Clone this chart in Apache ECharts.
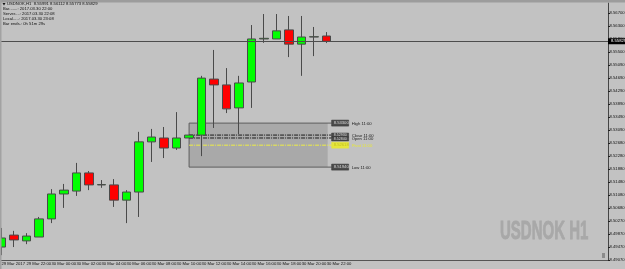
<!DOCTYPE html>
<html>
<head>
<meta charset="utf-8">
<style>html,body{margin:0;padding:0;background:#c2c2c2}#c{width:625px;height:269px}</style>
<script src="https://cdn.jsdelivr.net/npm/echarts@6/dist/echarts.min.js"></script>
</head>
<body>
<div id="c"></div>
<script>
// USDNOK H1 bars, oldest first
const barTimes = ['29 Mar 2017','29 Mar 21:00','29 Mar 22:00','29 Mar 23:00','30 Mar 00:00','30 Mar 01:00','30 Mar 02:00','30 Mar 03:00','30 Mar 04:00','30 Mar 05:00','30 Mar 06:00','30 Mar 07:00','30 Mar 08:00','30 Mar 09:00','30 Mar 10:00','30 Mar 11:00','30 Mar 12:00','30 Mar 13:00','30 Mar 14:00','30 Mar 15:00','30 Mar 16:00','30 Mar 17:00','30 Mar 18:00','30 Mar 19:00','30 Mar 20:00','30 Mar 21:00','30 Mar 22:00'];
const opens  = [8.4947,8.4984,8.4966,8.4978,8.5034,8.5111,8.5120,8.5176,8.5139,8.5139,8.5092,8.5117,8.5272,8.5284,8.5253,8.5284,8.5293,8.5466,8.5448,8.5377,8.5457,8.5590,8.5590,8.5618,8.5574,8.5596,8.55991];
const closes = [8.4975,8.4969,8.4981,8.5034,8.5111,8.5123,8.5176,8.5139,8.5140,8.5092,8.5117,8.5272,8.5287,8.5253,8.5284,8.5293,8.5469,8.5448,8.5374,8.5454,8.5590,8.5592,8.5615,8.5574,8.5596,8.5597,8.55829];
const lows   = [8.4922,8.4947,8.4956,8.4978,8.5021,8.5068,8.5105,8.5123,8.5130,8.5071,8.5021,8.5040,8.5210,8.5222,8.5247,8.5284,8.5228,8.5315,8.5361,8.5296,8.5377,8.5578,8.5590,8.5534,8.5476,8.5537,8.55773];
const highs  = [8.5006,8.4997,8.4990,8.5040,8.5126,8.5142,8.5207,8.5182,8.5154,8.5157,8.5123,8.5303,8.5312,8.5318,8.5364,8.5293,8.5476,8.5556,8.5500,8.5476,8.5633,8.5667,8.5667,8.5661,8.5661,8.5627,8.56112];

// Price scale
const priceMin = 8.4907, priceMax = 8.57011;
const priceTicks = [8.4907,8.4947,8.4987,8.5027,8.5068,8.5108,8.5148,8.5188,8.5228,8.5268,8.5309,8.5349,8.5389,8.5429,8.5469,8.5509,8.5550,8.5590,8.5630,8.5670];
const lastPrice = 8.55829;
const slotCount = 49; // bars plus the empty chart shift on the right

// Session levels drawn from the 11:00 bar to the latest bar
const levelNames  = ['High 11:00','Close 11:00','Open 11:00','Pivot 11:00','Low 11:00'];
const levelValues = [8.5330,8.5293,8.5284,8.52618,8.5194];
const levelStart = 15, levelEnd = 26;

// Terminal info block
const infoHeader = 'USDNOK,H1  8.55991 8.56112 8.55773 8.55829';
const infoLines = ['Bar.......: 2017.03.30 22:00','Server....: 2017.03.30 22:08','Local.....: 2017.03.30 23:08','Bar ends.: 0h 51m 29s'];
const watermark = 'USDNOK H1';

const tinyFont = '"Liberation Sans Narrow","Liberation Sans",sans-serif';
const tinySize = 4.2;
const labels = barTimes.concat(new Array(slotCount - barTimes.length).fill(''));
const evenBar = (i) => i % 2 === 0 && i < barTimes.length;

const chart = echarts.init(document.getElementById('c'), null, {renderer: 'canvas'});

function renderLevels(params, api) {
  const i = api.value(0);
  const left = api.coord([levelStart, levelValues[0]]);
  const right = api.coord([levelEnd, levelValues[4]]);
  const y = api.coord([levelStart, levelValues[i]])[1];
  const endX = right[0] + 5;
  const pivot = i === 3, edge = i === 0 || i === 4;
  const children = [];
  if (i === 0) {
    children.push({type: 'rect', shape: {x: left[0], y: left[1], width: right[0] - left[0] + 1, height: right[1] - left[1]},
      style: {fill: '#a9a9a9', stroke: null}});
    children.push({type: 'line', shape: {x1: left[0], y1: left[1], x2: left[0], y2: right[1]}, style: {stroke: '#5e5e5e', lineWidth: 1}});
  }
  children.push({type: 'line', shape: {x1: left[0], y1: y, x2: endX, y2: y},
    style: {stroke: pivot ? '#eeee44' : (edge ? '#5e5e5e' : '#1c1c1c'), lineWidth: 1, lineDash: edge ? null : [4, 1, 1, 1]}});
  const tagH = (i === 1 || i === 2) ? 4 : 6;
  const tagY = i === 1 ? y - 2 : (i === 2 ? y - 1 : y - 3);
  children.push({type: 'rect', shape: {x: endX, y: tagY, width: 17, height: tagH},
    style: {fill: pivot ? '#e6e63c' : '#4c4c4c', stroke: pivot ? '#e6e63c' : '#2e2e2e', lineWidth: 0.5}});
  children.push({type: 'text', x: endX + 2, y: tagY + tagH / 2,
    style: {text: levelValues[i].toFixed(5), fill: pivot ? '#c0c020' : '#d8d8d8', font: `${tagH === 4 ? 3.6 : tinySize}px ${tinyFont}`, verticalAlign: 'middle'}});
  children.push({type: 'text', x: endX + 20, y: i === 1 ? y + 1 : (i === 2 ? y + 1 : y + 0.5),
    style: {text: levelNames[i], fill: pivot ? '#e6e63c' : '#1a1a1a', font: `${tinySize}px ${tinyFont}`, verticalAlign: 'middle'}});
  return {type: 'group', children};
}

const infoGraphics = [
  {type: 'rect', z: 10, shape: {x: 0, y: 0, width: 625, height: 2.5}, style: {fill: '#9c9c9c'}},
  {type: 'rect', z: 10, shape: {x: 0, y: 0, width: 1.5, height: 269}, style: {fill: '#a2a2a2'}},
  {type: 'polygon', z: 10, shape: {points: [[2.5, 3], [5.5, 3], [4, 5.5]]}, style: {fill: '#111'}},
  {type: 'text', z: 10, x: 7, y: 4.2, style: {text: infoHeader, fill: '#111', font: `${tinySize}px ${tinyFont}`, verticalAlign: 'middle'}},
  ...infoLines.map((line, i) => ({type: 'text', z: 10, x: 3, y: 9.2 + i * 4.8,
    style: {text: line, fill: '#111', font: `${tinySize}px ${tinyFont}`, verticalAlign: 'middle'}})),
  {type: 'text', z: 1, x: 500, y: 232, scaleX: 0.6,
    style: {text: watermark, fill: '#a8a8a8', stroke: '#a8a8a8', lineWidth: 0.8, font: 'bold 25px "Liberation Sans",sans-serif', verticalAlign: 'middle'}},
  {type: 'rect', z: 10, shape: {x: 602, y: 253, width: 3, height: 5}, style: {fill: '#8c8c8c'}}
];

chart.setOption({
  animation: false,
  backgroundColor: '#c2c2c2',
  graphic: infoGraphics,
  grid: {left: -4.75, top: 3, right: 17, bottom: 9, outerBoundsMode: 'none', containLabel: false},
  xAxis: {
    type: 'category',
    data: labels,
    boundaryGap: true,
    axisLine: {lineStyle: {color: '#555', width: 1}},
    axisTick: {alignWithLabel: true, length: 2, interval: evenBar, lineStyle: {color: '#222'}},
    axisLabel: {
      interval: evenBar, align: 'left', margin: 1.5, color: '#111', showMinLabel: true,
      fontFamily: tinyFont, fontSize: tinySize,
      formatter: (v) => v
    },
    splitLine: {show: false}
  },
  yAxis: {
    type: 'value',
    position: 'right',
    scale: true,
    min: priceMin,
    max: priceMax,
    axisLine: {show: true, lineStyle: {color: '#444', width: 1}},
    axisTick: {show: true, length: 2, customValues: priceTicks, lineStyle: {color: '#222'}},
    axisLabel: {
      customValues: priceTicks, margin: 1.5, color: '#111',
      fontFamily: tinyFont, fontSize: tinySize,
      formatter: (v) => v.toFixed(5)
    },
    splitLine: {show: false}
  },
  series: [
    {
      type: 'custom',
      z: 1,
      clip: false,
      coordinateSystem: 'cartesian2d',
      data: levelValues.map((v, i) => [i, v]),
      encode: {x: 0, y: 1},
      renderItem: renderLevels,
      silent: true
    },
    {
      type: 'candlestick',
      z: 2,
      barWidth: 9,
      data: opens.map((o, i) => [o, closes[i], lows[i], highs[i]]),
      itemStyle: {color: '#00ff00', color0: '#ff0000', borderColor: '#4a4a4a', borderColor0: '#4a4a4a', borderWidth: 1}
    },
    {
      // Horizontal line and axis tag for the latest price
      type: 'line',
      z: 3,
      data: [],
      markLine: {
        silent: true,
        symbol: 'none',
        animation: false,
        precision: 5,
        lineStyle: {color: '#4d4d4d', width: 1.2, type: 'solid'},
        label: {
          show: true, position: 'end', distance: 0,
          formatter: () => lastPrice.toFixed(5),
          backgroundColor: '#000', color: '#fff',
          fontFamily: tinyFont, fontSize: tinySize, padding: [1, 2, 1, 3]
        },
        data: [{yAxis: lastPrice}]
      }
    }
  ]
});
</script>
</body>
</html>
